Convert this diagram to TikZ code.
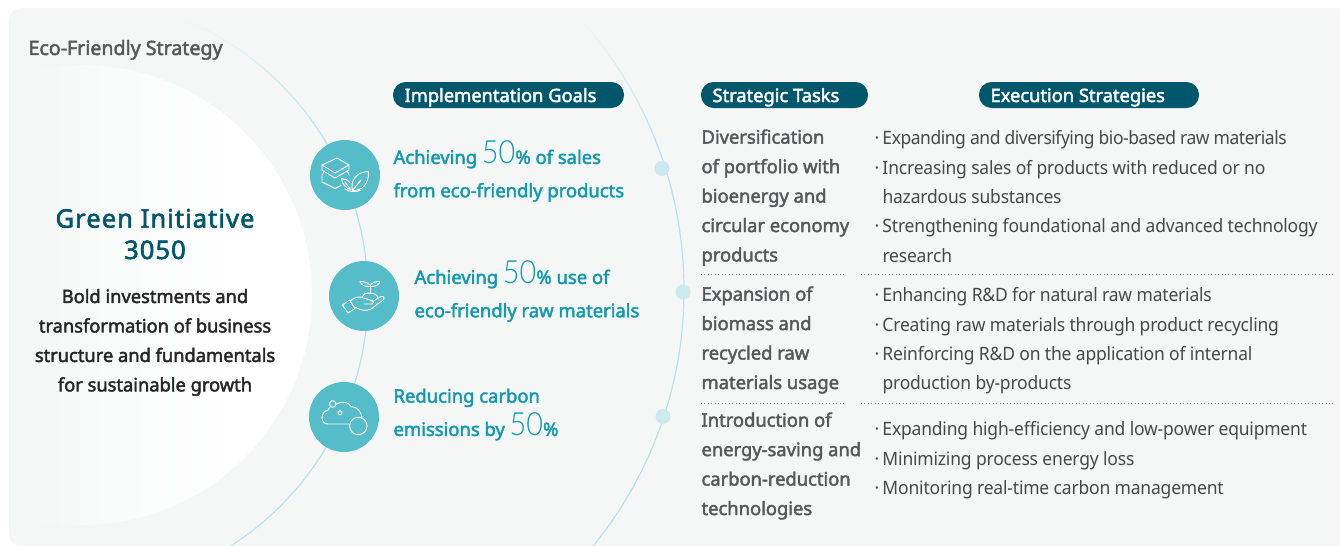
\documentclass[tikz,border=0pt]{standalone}
\usepackage{fontspec}
\setmainfont{Noto Sans}
\newfontfamily\medfont[FakeBold=2.2,LetterSpace=-0.3]{Noto Sans}
\newfontfamily\titlefont[FakeBold=2.2,LetterSpace=4]{Noto Sans}
\newfontfamily\stratfont[FakeStretch=0.95,LetterSpace=-1]{Noto Sans}
\newfontfamily\thinfont[FakeStretch=0.9]{Lato Light}
\definecolor{panelcol}{HTML}{F5F7F7}
\definecolor{deepcol}{HTML}{00566B}
\definecolor{aquacol}{HTML}{55BCC9}
\definecolor{goalcol}{HTML}{1199B0}
\definecolor{arccol}{HTML}{B8E2EA}
\definecolor{dotcol}{HTML}{CBE9EE}
\definecolor{taskcol}{HTML}{58585A}
\definecolor{stratcol}{HTML}{47484A}
\newcommand{\bigfifty}{{\thinfont\fontsize{24}{24}\selectfont 50}}
\newcommand{\stratdot}{\makebox[6pt][l]{·}}
\newcommand{\stratgap}{\hspace*{6pt}}
\tikzset{every picture/.style={line width=0.75pt}}
\tikzset{
  pillbar/.style={fill=deepcol,draw=none,rounded corners=9.5pt},
  pilltext/.style={anchor=base west,inner sep=0pt,text=white,font=\medfont\fontsize{13.8}{17}\selectfont},
  goaltext/.style={anchor=north west,inner sep=0pt,text=goalcol,align=left,font=\medfont\fontsize{13.9}{25}\selectfont},
  tasktext/.style={anchor=north west,inner sep=0pt,text=taskcol,align=left,font=\medfont\fontsize{13.85}{22.1}\selectfont},
  strattext/.style={anchor=north west,inner sep=0pt,text=stratcol,align=left,font=\stratfont\fontsize{13.8}{22.1}\selectfont},
  goaldisc/.style={fill=aquacol,draw=none},
  arcdot/.style={fill=dotcol,draw=none},
  iconline/.style={draw=white,line width=0.7pt,line join=round,line cap=round},
  splitline/.style={draw=taskcol!70,line width=0.6pt,dotted},
}

\begin{document}
\begin{tikzpicture}[x=0.75pt,y=0.75pt,yscale=-1,xscale=1]
\useasboundingbox (0,0) rectangle (1340,546);

%Shape: Rectangle
\draw [draw=none,fill=panelcol,rounded corners=9pt] (9,8) -- (1350,8) -- (1350,546) -- (9,546) -- cycle ;

%Shape: Circle
\begin{scope}
\clip (82,295) circle [radius=230];
\shade [left color=panelcol,right color=white,draw=none] (28,60) rectangle (230,530);
\fill [white] (229,60) rectangle (315,530);
\end{scope}

%Shape: Arc
\begin{scope}
\clip (9,140) rectangle (1340,546);
\draw [arccol,line width=0.9pt] (70,295) circle [radius=298];
\draw [arccol,line width=0.9pt] (278,290) circle [radius=406];
\end{scope}
\foreach \y in {8,18,...,138}{
  \pgfmathsetmacro{\shadepct}{(\y-8)/1.35}
  \begin{scope}
  \clip (9,\y) rectangle (1340,\y+10);
  \draw [arccol!\shadepct!panelcol,line width=0.9pt] (70,295) circle [radius=298];
  \draw [arccol!\shadepct!panelcol,line width=0.9pt] (278,290) circle [radius=406];
  \end{scope}
}

%Shape: Circle
\draw [arcdot] (662,168.5) circle [radius=7.5];
\draw [arcdot] (683,292) circle [radius=7.5];
\draw [arcdot] (663,416.5) circle [radius=7.5];
\draw [goaldisc] (345,175) circle [radius=35];
\draw [goaldisc] (364,296) circle [radius=35];
\draw [goaldisc] (344,417) circle [radius=35];

%Icon: layers and leaves
\draw [iconline] (322,165) -- (337,158) -- (349,165) -- (335,173) -- cycle ;
\draw [iconline] (322,165) -- (322,170) -- (335,178) -- (349,170) -- (349,165) ;
\draw [iconline] (324,172) -- (322,175) -- (322,182) -- (335,188.5) -- (341,185.5) ;
\draw [iconline] (347,171) -- (349,174) -- (349,175) ;
\draw [iconline] (352.5,190.5) .. controls (350,181) and (356,172) .. (368.5,171.5) .. controls (369,183) and (363,191) .. (352.5,190.5) -- cycle ;
\draw [iconline] (352.5,190.5) -- (361,180) ;
\draw [iconline] (351,190) .. controls (346,188) and (342,184) .. (341.5,178.5) .. controls (345,178.5) and (348,180) .. (350,183) ;
\draw [iconline] (351,190) -- (345,182) ;
\draw [iconline] (345,189) .. controls (349,192) and (356,192.5) .. (361,190) ;

%Icon: hand and sprout
\draw [iconline] (342.5,305) -- (349.5,300) -- (355,308.5) -- (348,313) -- cycle ;
\draw [iconline] (350,301) .. controls (354,298) and (358,296) .. (362,297.5) -- (370,300) .. controls (373,300.5) and (375,302) .. (372,304) -- (364,304) ;
\draw [iconline] (372,302) -- (381,296.5) .. controls (384,296) and (385,298) .. (383,300) -- (371,309) .. controls (366,311) and (363,310.5) .. (359,309) -- (354.5,307) ;
\draw [iconline] (370,293.5) -- (370,285) ;
\draw [iconline] (370,285) .. controls (368,283) and (364,281) .. (360,281.5) .. controls (361,285) and (365,287) .. (370,286.5) ;
\draw [iconline] (370,285) .. controls (372,283) and (376,281) .. (380,281.5) .. controls (379,285) and (375,287) .. (370,286.5) ;
\draw [iconline] (362,297) .. controls (363,294) and (366,293) .. (370,293) .. controls (374,293) and (378,295) .. (378,298.5) ;

%Icon: cloud
\draw [iconline] (349,424) -- (328,424) .. controls (320,424) and (320,412) .. (328,410) .. controls (329,408.5) and (329.5,408) .. (330,407) ;
\draw [iconline] (336,404) .. controls (342,401) and (349,402) .. (351,406.5) .. controls (357,407) and (361,411) .. (362,418) ;
\draw [iconline] (332.7,404) circle [radius=3.3];
\draw [iconline] (340,412.7) circle [radius=2];
\draw [iconline] (358.3,426) circle [radius=8.7];

%Shape: Rounded Rectangle
\draw [pillbar] (393,82) rectangle (624,108);
\draw [pillbar] (701,82) rectangle (868,108);
\draw [pillbar] (979,82) rectangle (1199,108);

%Straight Lines
\draw [splitline] (701,274) -- (846,274) ;
\draw [splitline] (861,274) -- (1333,274) ;
\draw [splitline] (701,403.5) -- (846,403.5) ;
\draw [splitline] (861,403.5) -- (1333,403.5) ;

% Text Node
\draw (28,55) node (stratTitle) [anchor=base west,inner sep=0pt,text=taskcol,font=\medfont\fontsize{14.8}{18}\selectfont] {Eco-Friendly Strategy};
% Text Node
\draw (155,259) node (greenTitle) [anchor=base,inner sep=0pt,text=deepcol,align=center,font=\titlefont\fontsize{19.2}{23.5}\selectfont] {Green Initiative\\3050};
% Text Node
\draw (155,288.5) node (greenText) [anchor=north,inner sep=0pt,text=black!85,align=center,font=\medfont\fontsize{13.8}{22.1}\selectfont] {Bold investments and\\transformation of business\\structure and fundamentals\\for sustainable growth};
% Text Node
\draw (404,102) node (goalHead) [pilltext] {Implementation Goals};
% Text Node
\draw (712,102) node (taskHead) [pilltext] {Strategic Tasks};
% Text Node
\draw (990,102) node (stratHead) [pilltext] {Execution Strategies};
% Text Node
\draw (393,140.5) node (goalSales) [goaltext] {Achieving \bigfifty\% of sales\\from eco-friendly products};
% Text Node
\draw (414,260.5) node (goalRaw) [goaltext] {Achieving \bigfifty\% use of\\eco-friendly raw materials};
% Text Node
\draw (393,388) node (goalCarbon) [goaltext] {Reducing carbon\\emissions by \bigfifty\%};
% Text Node
\draw (701,129) node (taskPortfolio) [tasktext] {Diversification\\of portfolio with\\bioenergy and\\circular economy\\products};
% Text Node
\draw (701,286) node (taskBiomass) [tasktext] {Expansion of\\biomass and\\recycled raw\\materials usage};
% Text Node
\draw (701,412) node (taskEnergy) [tasktext] {Introduction of\\energy-saving and\\carbon-reduction\\technologies};
% Text Node
\draw (874,130) node (stratPortfolio) [strattext] {\stratdot {\addfontfeature{LetterSpace=-2.5}Expanding and diversifying bio-based raw materials}\\\stratdot Increasing sales of products with reduced or no\\\stratgap hazardous substances\\\stratdot Strengthening foundational and advanced technology\\\stratgap research};
% Text Node
\draw (874,287) node (stratBiomass) [strattext] {\stratdot Enhancing R\&D for natural raw materials\\\stratdot Creating raw materials through product recycling\\\stratdot Reinforcing R\&D on the application of internal\\\stratgap production by-products};
% Text Node
\draw (874,421) node (stratEnergy) [strattext] {\stratdot Expanding high-efficiency and low-power equipment\\\stratdot Minimizing process energy loss\\\stratdot Monitoring real-time carbon management};

\end{tikzpicture}
\end{document}
